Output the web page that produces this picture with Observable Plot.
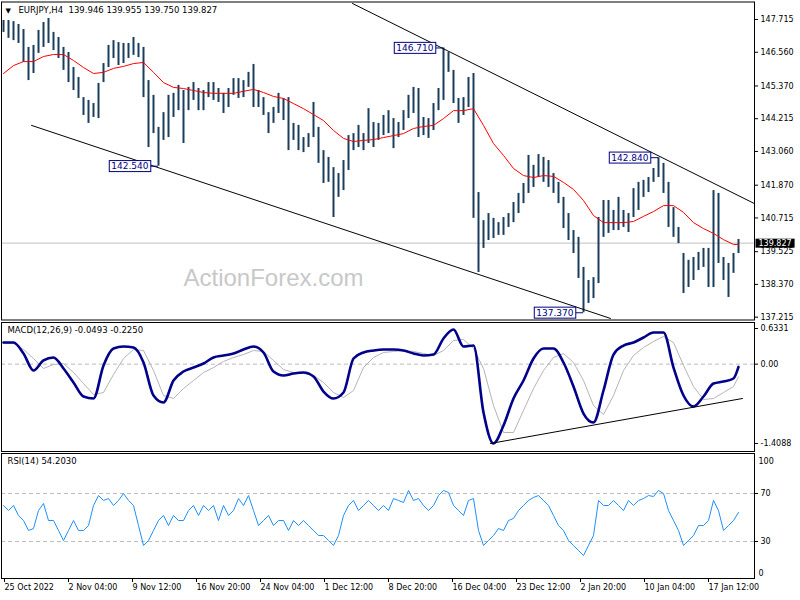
<!DOCTYPE html>
<html><head><meta charset="utf-8">
<script src="https://cdn.jsdelivr.net/npm/d3@7"></script>
<script src="https://cdn.jsdelivr.net/npm/@observablehq/plot@0.6"></script>
<style>
body{margin:0;background:#fff;}
#chart{position:relative;width:800px;height:600px;background:#fff;overflow:hidden;}
#chart svg{position:absolute;left:0;}
</style></head><body><div id="chart"></div>
<script>
// ---------- data ----------
const headerText = "EURJPY,H4\u00a0 139.946 139.955 139.750 139.827";
const lastClose = 139.827;
const macdHeader = "MACD(12,26,9) -0.0493 -0.2250";
const rsiHeader = "RSI(14) 54.2030";
const watermark = "ActionForex.com";

const highs = [147.68,147.68,147.64,147.54,147.36,146.73,146.80,147.33,147.61,147.75,
147.26,147.08,146.73,146.55,146.02,145.67,144.96,144.86,144.75,145.46,
146.16,146.80,146.97,146.90,146.87,146.87,147.08,146.87,146.73,145.56,
145.04,143.91,144.43,145.04,145.11,145.39,145.21,145.32,145.49,145.28,
145.21,145.49,145.49,145.28,145.11,145.28,145.63,145.63,145.56,145.85,
146.13,145.21,144.96,144.43,144.61,145.11,144.93,144.96,144.05,143.98,
143.55,143.69,144.79,143.91,143.09,142.85,142.49,142.28,142.74,143.62,
143.69,143.98,143.69,144.57,
144.08,144.05,144.33,144.50,144.22,144.08,144.50,145.04,145.32,145.28,
144.26,144.22,144.75,145.28,146.71,146.55,145.92,144.93,144.96,145.67,
145.81,141.61,140.62,140.87,140.70,140.55,140.73,140.87,141.26,141.58,
141.93,142.92,142.57,142.95,142.85,142.74,142.28,141.97,141.44,140.87,
140.27,140.03,138.97,138.51,138.61,140.73,141.33,141.33,140.98,141.44,
140.98,140.87,141.75,141.97,142.04,142.14,142.46,142.84,142.64,141.97,
141.08,140.38,139.46,139.22,139.32,139.50,139.64,139.64,141.68,141.58,
139.32,139.11,139.46,139.955];

const lows = [147.26,147.05,146.97,146.87,146.20,145.56,145.81,146.52,146.73,146.87,
146.62,146.34,145.92,145.49,145.21,144.93,144.33,144.05,144.26,144.22,
145.49,146.02,146.34,146.09,146.16,146.34,146.45,146.37,144.96,143.20,
143.69,142.54,143.45,143.55,144.26,144.50,143.34,144.50,144.86,144.50,
144.50,144.96,144.86,144.79,144.40,144.61,145.04,144.93,144.96,145.32,
144.61,144.61,144.33,143.69,144.05,144.40,144.15,143.09,143.45,143.09,
143.02,143.20,143.55,142.64,141.93,141.97,140.73,141.44,141.68,142.39,
143.09,143.20,143.09,143.34,
143.20,143.45,143.62,143.69,143.16,143.55,143.80,144.22,144.40,143.55,
143.62,143.52,143.80,144.50,144.86,145.85,144.75,144.05,144.33,144.61,
140.70,138.79,139.64,139.92,139.99,140.10,140.10,140.38,140.55,140.87,
141.22,141.58,141.79,142.14,141.97,141.79,141.58,141.22,140.34,139.92,
139.46,138.58,137.37,137.70,137.87,138.40,140.03,140.17,140.27,140.27,
140.38,140.20,140.73,140.98,141.44,141.61,141.97,142.14,141.58,140.38,
140.03,139.81,138.05,138.26,138.51,138.86,138.97,138.26,138.26,139.11,
138.51,137.91,138.76,139.46];

// sampled every 2 bars, last entry = last bar
const ma20 = [145.81,146.09,146.23,146.23,146.41,146.48,146.48,146.27,146.02,145.81,
145.85,145.99,146.06,146.16,146.20,145.85,145.49,145.32,145.28,145.21,
145.14,145.11,145.11,145.11,145.18,145.25,145.14,145.00,144.93,144.75,
144.57,144.36,144.15,143.80,143.52,143.41,143.45,143.48,143.55,143.62,
143.69,143.87,143.94,143.98,144.22,144.50,144.50,144.57,143.98,143.34,
142.92,142.46,142.21,142.14,142.21,142.18,141.97,141.72,141.33,140.80,
140.55,140.55,140.55,140.59,140.77,140.94,141.15,141.15,140.91,140.55,
140.34,140.17,139.95,139.78,139.78];

const macdMain = [0.384,0.384,0.189,-0.113,0.065,0.118,-0.077,-0.326,-0.575,-0.610,
-0.024,0.278,0.313,0.296,0.029,-0.557,-0.681,-0.291,-0.131,-0.060,
0.011,0.118,0.153,0.189,0.260,0.313,0.207,-0.131,-0.202,-0.166,
-0.149,-0.220,-0.486,-0.610,-0.504,0.100,0.207,0.242,0.260,0.260,
0.242,0.189,0.153,0.171,0.456,0.615,0.313,0.331,-0.859,-1.409,
-1.090,-0.610,-0.291,0.100,0.278,0.278,0.029,-0.397,-0.877,-1.037,
-0.468,0.171,0.331,0.384,0.473,0.562,0.562,-0.060,-0.557,-0.752,
-0.575,-0.344,-0.308,-0.255,-0.049];

const macdSignal = [0.367,0.367,0.260,0.100,-0.077,-0.006,0.011,-0.148,-0.344,-0.539,
-0.504,-0.184,0.100,0.260,0.242,-0.113,-0.557,-0.610,-0.433,-0.291,
-0.149,-0.060,0.047,0.118,0.171,0.242,0.225,0.065,-0.095,-0.149,
-0.166,-0.202,-0.326,-0.504,-0.593,-0.468,-0.060,0.118,0.207,0.225,
0.242,0.225,0.189,0.153,0.242,0.420,0.438,0.278,-0.077,-0.735,
-1.214,-1.214,-0.823,-0.433,-0.113,0.118,0.189,0.029,-0.291,-0.735,
-0.895,-0.557,-0.113,0.153,0.296,0.402,0.491,0.384,-0.024,-0.397,
-0.628,-0.610,-0.504,-0.397,-0.225];

const rsi14 = [60.0,55.8,60.0,51.7,47.5,39.2,40.8,55.8,61.7,47.5,
47.5,39.2,30.8,39.2,47.5,39.2,39.2,43.3,60.0,68.3,
64.2,65.8,60.0,64.2,70.0,64.2,60.0,43.3,26.7,30.8,
39.2,47.5,51.7,43.3,51.7,47.5,47.5,55.8,60.0,51.7,
60.0,55.8,60.0,47.5,60.0,51.7,55.8,65.8,60.0,68.3,
55.8,43.3,47.5,51.7,43.3,47.5,47.5,39.2,47.5,43.3,
47.5,43.3,39.2,35.0,35.0,30.8,26.7,35.0,51.7,60.0,
64.2,55.8,60.0,64.2,60.0,55.8,60.0,55.8,65.8,64.2,
62.5,72.5,64.2,65.8,60.0,55.8,60.0,68.3,72.5,70.8,
60.0,55.8,51.7,64.2,65.8,39.2,26.7,30.8,35.0,40.8,
39.2,47.5,49.2,55.8,60.0,64.2,66.7,68.3,64.2,60.0,
51.7,43.3,39.2,30.8,26.7,22.5,18.3,26.7,35.0,64.2,
60.0,60.0,64.2,60.0,55.8,64.2,60.0,64.2,65.8,68.3,
67.5,72.5,70.0,55.8,47.5,39.2,26.7,30.8,35.0,43.3,
43.3,47.5,64.2,55.8,39.2,43.3,47.5,54.2];

const dateLabels = ["25 Oct 2022","2 Nov 04:00","9 Nov 12:00","16 Nov 20:00","24 Nov 04:00","1 Dec 12:00",
  "8 Dec 20:00","16 Dec 04:00","23 Dec 12:00","2 Jan 20:00","10 Jan 04:00","17 Jan 12:00"];
const dateTickBars = [0,12.8,25.6,38.4,51.2,64,76.8,89.6,102.4,115.2,128,140.8];

const priceTicks = [147.715,146.560,145.370,144.215,143.060,141.870,140.715,139.525,138.370,137.215];
const macdTicks = [0.6331,0,-1.4088];

const annBars = [31,88,116,131];
const annPrices = [142.540,146.710,137.370,142.840];

const upperChannelBars = [69.8,150.2];
const upperChannelPrices = [148.28,141.22];
const lowerChannelBars = [5.6,121.4];
const lowerChannelPrices = [143.98,137.17];
const macdTrendBars = [97.4,147.8];
const macdTrendValues = [-1.409,-0.610];

// ---------- layout ----------
const xDomain = [-0.4,150.2];
const font = '"DejaVu Sans", sans-serif';
const common = {
  width: 800, marginLeft: 1, marginRight: 46,
  x: {domain: xDomain, axis: null},
  style: {fontFamily: font, fontSize: "8px", color: "#000", background: "transparent", overflow: "visible"}
};
const sampleBar = (j, n) => j < n - 1 ? 2 * j : 147;

const bars = highs.map((h, i) => ({i, h, l: lows[i]}));
const maData = ma20.map((v, j) => ({i: sampleBar(j, ma20.length), v}));
const macdData = macdMain.map((v, j) => ({i: sampleBar(j, macdMain.length), v}));
const sigData = macdSignal.map((v, j) => ({i: sampleBar(j, macdSignal.length), v}));
const rsiData = rsi14.map((v, i) => ({i, v}));
const ann = annBars.map((b, k) => ({i: b, p: annPrices[k]}));
const upper = upperChannelBars.map((b, k) => ({i: b, p: upperChannelPrices[k]}));
const lower = lowerChannelBars.map((b, k) => ({i: b, p: lowerChannelPrices[k]}));
const mtrend = macdTrendBars.map((b, k) => ({i: b, v: macdTrendValues[k]}));

const pricePlot = Plot.plot({
  ...common, height: 321, marginTop: 1.5, marginBottom: 1.5,
  y: {domain: [137.115, 148.332], axis: null},
  marks: [
    Plot.ruleY([lastClose], {stroke: "#c0c0c0"}),
    Plot.text([watermark], {frameAnchor: "top-left", dx: 182, dy: 267, lineAnchor: "top", textAnchor: "start",
      fontSize: 24, fontFamily: '"Liberation Sans", Arial, sans-serif', fill: "#c8c8c8"}),
    Plot.ruleX(bars, {x: "i", y1: "l", y2: "h", stroke: "#1a3d5c", strokeWidth: 2}),
    Plot.line(maData, {x: "i", y: "v", stroke: "#ff0000", strokeWidth: 1}),
    Plot.line(upper, {x: "i", y: "p", stroke: "#000", strokeWidth: 1, clip: true}),
    Plot.line(lower, {x: "i", y: "p", stroke: "#000", strokeWidth: 1, clip: true}),
    Plot.ruleY(ann, {y: "p", x1: d => d.i - 2, x2: "i", stroke: "#000080"}),
    Plot.text(ann, {x: "i", y: "p", text: d => d.p.toFixed(3), dx: -10, textAnchor: "end",
      fill: "#000080", fontSize: 9, className: "annbox"}),
    Plot.frame({stroke: "#000"}),
    Plot.axisY({anchor: "right", ticks: priceTicks, tickFormat: d => d.toFixed(3), tickSize: 3, tickPadding: 3,
      textAnchor: "start", label: null}),
    Plot.text([lastClose], {x: xDomain[1], y: d => d, text: d => d.toFixed(3), dx: 4, textAnchor: "start",
      fill: "#fff", className: "curbox"}),
    Plot.text(["\u25bc"], {frameAnchor: "top-left", dx: 4, dy: 6, lineAnchor: "top", textAnchor: "start", fontSize: 7}),
    Plot.text([headerText], {frameAnchor: "top-left", dx: 17, dy: 5, lineAnchor: "top", textAnchor: "start", fontSize: 8.5})
  ]
});

const macdPlot = Plot.plot({
  ...common, height: 131, marginTop: 1, marginBottom: 1,
  y: {domain: [-1.5516, 0.7397], axis: null},
  marks: [
    Plot.ruleY([0], {stroke: "#bdbdbd", strokeDasharray: "4,3"}),
    Plot.line(sigData, {x: "i", y: "v", stroke: "#b4b4b4", strokeWidth: 1}),
    Plot.line(macdData, {x: "i", y: "v", stroke: "#00008b", strokeWidth: 2.6, curve: "monotone-x"}),
    Plot.line(mtrend, {x: "i", y: "v", stroke: "#000", strokeWidth: 1}),
    Plot.frame({stroke: "#000"}),
    Plot.axisY({anchor: "right", ticks: macdTicks, tickFormat: d => d === 0 ? "0.00" : String(d),
      tickSize: 3, tickPadding: 3, textAnchor: "start", label: null}),
    Plot.text([macdHeader], {frameAnchor: "top-left", dx: 6, dy: 4, lineAnchor: "top", textAnchor: "start", fontSize: 8.5})
  ]
});

const rsiPlot = Plot.plot({
  ...common, height: 148, marginTop: 1, marginBottom: 22,
  y: {domain: [-0.83, 103.33], axis: null},
  marks: [
    Plot.ruleY([70, 30], {stroke: "#bdbdbd", strokeDasharray: "4,3"}),
    Plot.line(rsiData, {x: "i", y: "v", stroke: "#1e90ff", strokeWidth: 1}),
    Plot.frame({stroke: "#000"}),
    Plot.axisY({anchor: "right", ticks: [70, 30], tickSize: 3, tickPadding: 3, textAnchor: "start", label: null}),
    Plot.text([100], {x: xDomain[1], y: d => d, text: d => String(d), dx: 4, dy: 4, textAnchor: "start"}),
    Plot.text([0], {x: xDomain[1], y: d => d, text: d => String(d), dx: 4, dy: -4, textAnchor: "start"}),
    Plot.axisX({anchor: "bottom", ticks: dateTickBars, tickFormat: d => dateLabels[dateTickBars.indexOf(d)],
      tickSize: 4, tickPadding: 2, textAnchor: "start", dx: 1, label: null}),
    Plot.text([rsiHeader], {frameAnchor: "top-left", dx: 6, dy: 4, lineAnchor: "top", textAnchor: "start", fontSize: 8.5})
  ]
});

const chart = document.getElementById("chart");
pricePlot.style.top = "0px";
macdPlot.style.top = "321px";
rsiPlot.style.top = "452px";
chart.append(pricePlot, macdPlot, rsiPlot);

// boxes behind labelled texts
function boxify(svg, cls, fill, stroke, px, py) {
  svg.querySelectorAll("g." + cls + " text").forEach(t => {
    const b = t.getBBox();
    const r = document.createElementNS("http://www.w3.org/2000/svg", "rect");
    r.setAttribute("x", b.x - px);
    r.setAttribute("y", b.y - py);
    r.setAttribute("width", b.width + 2 * px);
    r.setAttribute("height", b.height + 2 * py);
    r.setAttribute("fill", fill);
    if (stroke) { r.setAttribute("stroke", stroke); r.setAttribute("stroke-width", 1); }
    const tr = t.getAttribute("transform");
    if (tr) r.setAttribute("transform", tr);
    t.parentNode.insertBefore(r, t);
  });
}
boxify(pricePlot, "annbox", "#fff", "#000080", 2, 0.5);
boxify(pricePlot, "curbox", "#000", null, 3, 0);
</script></body></html>
